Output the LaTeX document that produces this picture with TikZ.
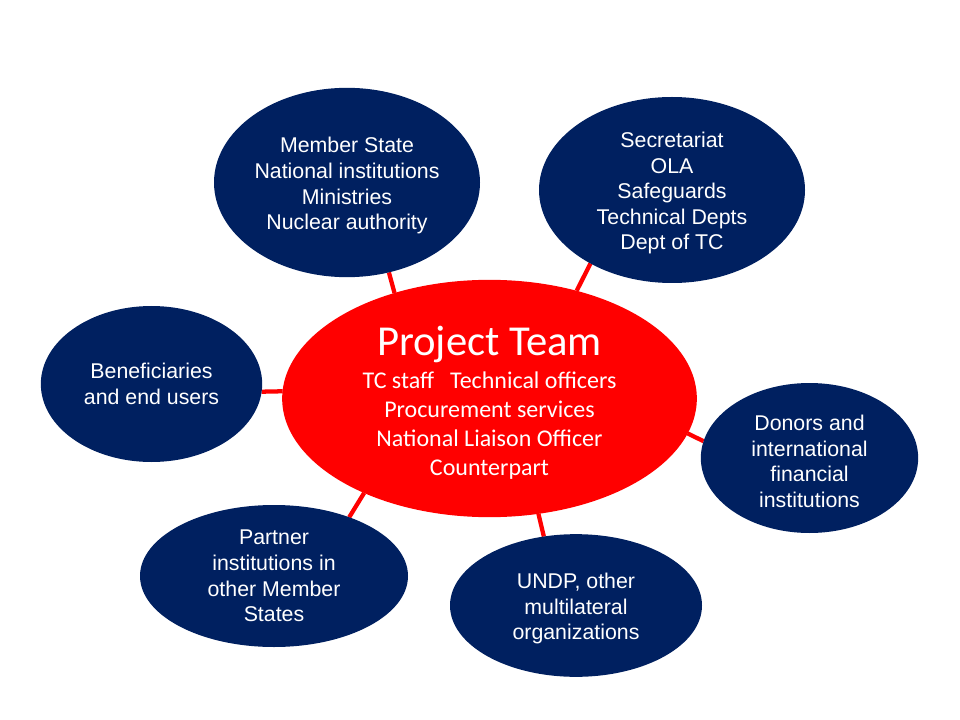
\documentclass[tikz,border=0pt]{standalone}
\usepackage{fontspec}
\setmainfont{Liberation Sans}
\newfontfamily\calibri{Carlito}
\usetikzlibrary{shapes.geometric,backgrounds}
\definecolor{tcnavy}{RGB}{0,32,96}
\definecolor{tcred}{RGB}{255,0,0}
\newcommand\topgap{\rule{0pt}{16.5pt}}

\begin{document}
\begin{tikzpicture}[x=0.75pt,y=-0.75pt,
    bubble/.style={ellipse,fill=tcnavy,text=white,inner sep=0pt,outer sep=0pt,
      align=center,font=\fontsize{16}{19.2}\selectfont},
    hub/.style={ellipse,fill=tcred,text=white,inner sep=0pt,outer sep=0pt,
      align=center,font=\calibri\fontsize{18}{21.75}\selectfont},
    spoke/.style={draw=tcred,line width=3.2pt}]
  \useasboundingbox (0,0) rectangle (960,720);
  \node[hub,minimum width=311pt,minimum height=178pt] (team) at (489.5,398.5)
    {\rule{0pt}{29pt}{\fontsize{32}{36}\selectfont Project Team}\\[3pt]
     TC staff\hspace{12pt}Technical officers\\
     Procurement services\\
     National Liaison Officer\\
     Counterpart};
  \node[bubble,minimum width=199.5pt,minimum height=142pt] (state) at (347,182.5)
    {\topgap Member State\\ National institutions\\ Ministries\\ Nuclear authority};
  \node[bubble,minimum width=199.5pt,minimum height=139.5pt] (secr) at (672,190)
    {\topgap Secretariat\\ OLA\\ Safeguards\\ Technical Depts\\ Dept of TC};
  \node[bubble,minimum width=166pt,minimum height=117pt] (benef) at (151.5,384)
    {Beneficiaries\\ and end users};
  \node[bubble,minimum width=163pt,minimum height=112.5pt] (donors) at (809.5,458)
    {\topgap Donors and\\ international\\ financial\\ institutions};
  \node[bubble,minimum width=201pt,minimum height=106.5pt] (partner) at (274,576)
    {Partner\\ institutions in\\ other Member\\ States};
  \node[bubble,minimum width=189pt,minimum height=107pt] (undp) at (576,605.5)
    {\topgap UNDP, other\\ multilateral\\ organizations};
  \begin{scope}[on background layer]
    \fill[white] (0,0) rectangle (960,720);
    % spokes from the project team
    \draw[spoke] (team.132) -- (state.-65);
    \draw[spoke] (team.51) -- (secr.222);
    \draw[spoke] (team.178) -- (benef.-4);
    \draw[spoke] (team.-10) -- (donors.171);
    \draw[spoke] (team.217) -- (partner.38);
    \draw[spoke] (team.-67) -- (undp.115);
  \end{scope}
\end{tikzpicture}
\end{document}
